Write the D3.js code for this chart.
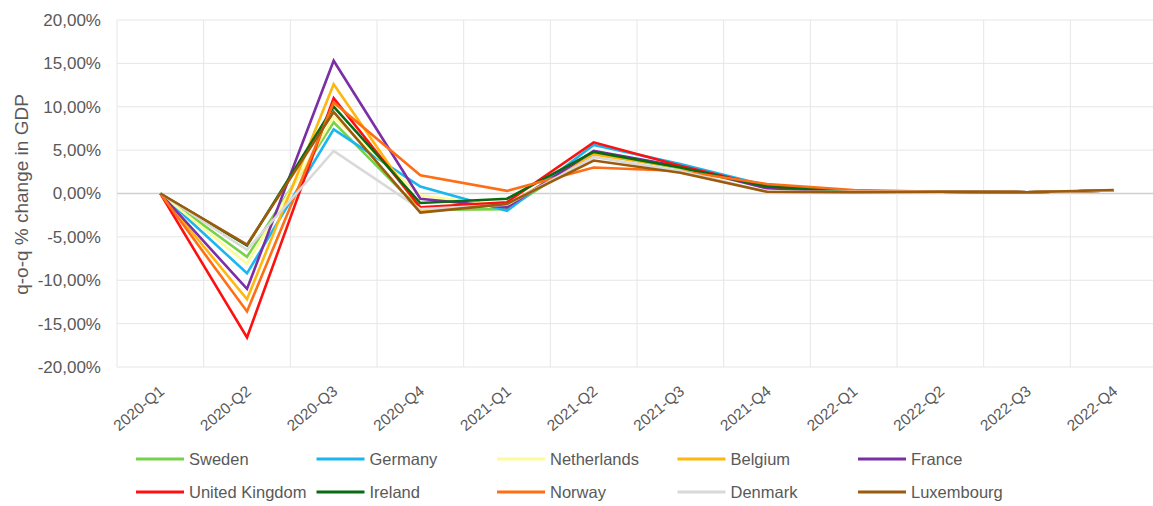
<!DOCTYPE html>
<html>
<head>
<meta charset="utf-8">
<title>q-o-q % change in GDP</title>
<script src="https://d3js.org/d3.v7.min.js"></script>
<style>
body { margin: 0; padding: 0; background: #fff; }
svg text { font-family: "Liberation Sans", Arial, Helvetica, sans-serif; fill: #595959; }
</style>
</head>
<body>
<svg id="chart" width="1153" height="506"></svg>
<script>
// quarters on the x axis
var quarters = ["2020-Q1","2020-Q2","2020-Q3","2020-Q4","2021-Q1","2021-Q2",
                "2021-Q3","2021-Q4","2022-Q1","2022-Q2","2022-Q3","2022-Q4"];

// y ticks (percent)
var yTicks = [20, 15, 10, 5, 0, -5, -10, -15, -20];

// series (percent)
var countries = ["Sweden","Germany","Netherlands","Belgium","France",
                 "United Kingdom","Ireland","Norway","Denmark","Luxembourg"];
var colors = ["#77d24b","#1ab6ef","#fbfb9a","#ffb60f","#7b2fa5",
              "#ff1010","#0a6a12","#ff6e14","#d9d9d9","#9a5b0c"];

var sweden      = [0, -7.3,  8.2, -1.9, -1.8, 4.6, 2.9, 0.7, 0.2, 0.2, 0.15, 0.35];
var germany     = [0, -9.2,  7.4,  0.8, -2.0, 5.6, 3.4, 0.9, 0.2, 0.2, 0.15, 0.35];
var netherlands = [0, -8.1,  8.8, -0.2, -1.5, 4.7, 3.0, 0.6, 0.2, 0.2, 0.15, 0.35];
var belgium     = [0, -12.2, 12.6, -1.9, -1.3, 4.5, 3.0, 0.7, 0.2, 0.2, 0.15, 0.35];
var france      = [0, -11.0, 15.3, -0.6, -1.6, 4.9, 3.1, 0.6, 0.2, 0.2, 0.15, 0.35];
var uk          = [0, -16.6, 11.0, -1.6, -1.0, 5.9, 3.2, 0.8, 0.2, 0.2, 0.15, 0.35];
var ireland     = [0, -6.0, 10.0, -1.1, -0.6, 4.8, 3.0, 0.8, 0.25, 0.2, 0.15, 0.35];
var norway      = [0, -13.6, 10.5,  2.1,  0.3, 3.0, 2.6, 1.1, 0.4, 0.2, 0.15, 0.35];
var denmark     = [0, -6.5,  4.9, -1.8, -1.3, 4.2, 2.6, 0.2, 0.2, 0.2, 0.15, 0.35];
var luxembourg  = [0, -5.9,  9.4, -2.2, -1.2, 3.8, 2.4, 0.2, 0.15, 0.2, 0.15, 0.4];

var values = [sweden, germany, netherlands, belgium, france,
              uk, ireland, norway, denmark, luxembourg];

var series = countries.map(function(c, i) {
  return { name: c, color: colors[i], values: values[i] };
});

var svg = d3.select("#chart");

var plotLeft = 117, plotRight = 1157, plotTop = 20, plotBottom = 367;

var x = d3.scaleBand().domain(quarters).range([plotLeft, plotRight]);
var y = d3.scaleLinear().domain([-20, 20]).range([plotBottom, plotTop]);

// horizontal grid lines
svg.append("g")
  .selectAll("line")
  .data(yTicks)
  .enter().append("line")
  .attr("x1", plotLeft).attr("x2", plotRight)
  .attr("y1", function(d) { return y(d); })
  .attr("y2", function(d) { return y(d); })
  .attr("stroke", function(d) { return d === 0 ? "#d0d0d0" : "#e6e6e6"; })
  .attr("stroke-width", function(d) { return d === 0 ? 1.5 : 1; });

// vertical grid lines at category boundaries
svg.append("g")
  .selectAll("line")
  .data(quarters.concat(["end"]))
  .enter().append("line")
  .attr("x1", function(d, i) { return plotLeft + i * x.step(); })
  .attr("x2", function(d, i) { return plotLeft + i * x.step(); })
  .attr("y1", plotTop).attr("y2", plotBottom)
  .attr("stroke", "#e6e6e6")
  .attr("stroke-width", 1);

// y axis
var yAxis = d3.axisLeft(y)
  .tickValues(yTicks)
  .tickSize(0)
  .tickPadding(16)
  .tickFormat(function(d) {
    return d3.format(".2f")(d).replace("\u2212", "-").replace(".", ",") + "%";
  });

var gy = svg.append("g")
  .attr("transform", "translate(" + plotLeft + ",0)")
  .call(yAxis);
gy.select(".domain").remove();
gy.selectAll("text").style("font-size", "17px").attr("fill", "#595959");

// x axis labels
var gx = svg.append("g")
  .attr("transform", "translate(0," + plotBottom + ")")
  .call(d3.axisBottom(x).tickSize(0).tickPadding(0));
gx.select(".domain").remove();
gx.selectAll("text")
  .style("font-size", "15.5px")
  .attr("fill", "#595959")
  .attr("text-anchor", "end")
  .attr("dy", 0)
  .attr("transform", "translate(5,26) rotate(-40)");

// y axis title
svg.append("text")
  .attr("transform", "translate(28," + (y(0) + 1) + ") rotate(-90)")
  .attr("text-anchor", "middle")
  .style("font-size", "19px")
  .text("q-o-q % change in GDP");

// lines
var line = d3.line()
  .x(function(d, i) { return x(quarters[i]) + x.bandwidth() / 2; })
  .y(function(d) { return y(d); });

svg.append("g")
  .selectAll("path")
  .data(series)
  .enter().append("path")
  .attr("d", function(d) { return line(d.values); })
  .attr("fill", "none")
  .attr("stroke", function(d) { return d.color; })
  .attr("stroke-width", 2.6)
  .attr("stroke-linejoin", "miter");

// legend
var legend = svg.append("g")
  .selectAll("g")
  .data(series)
  .enter().append("g")
  .attr("transform", function(d, i) {
    return "translate(" + (136 + (i % 5) * 180.5) + "," + (459 + Math.floor(i / 5) * 33) + ")";
  });

legend.append("line")
  .attr("x1", 0).attr("x2", 48)
  .attr("y1", 0).attr("y2", 0)
  .attr("stroke", function(d) { return d.color; })
  .attr("stroke-width", 3);

legend.append("text")
  .attr("x", 53)
  .attr("y", 0)
  .attr("dy", "0.35em")
  .style("font-size", "16.5px")
  .text(function(d) { return d.name; });
</script>
</body>
</html>
